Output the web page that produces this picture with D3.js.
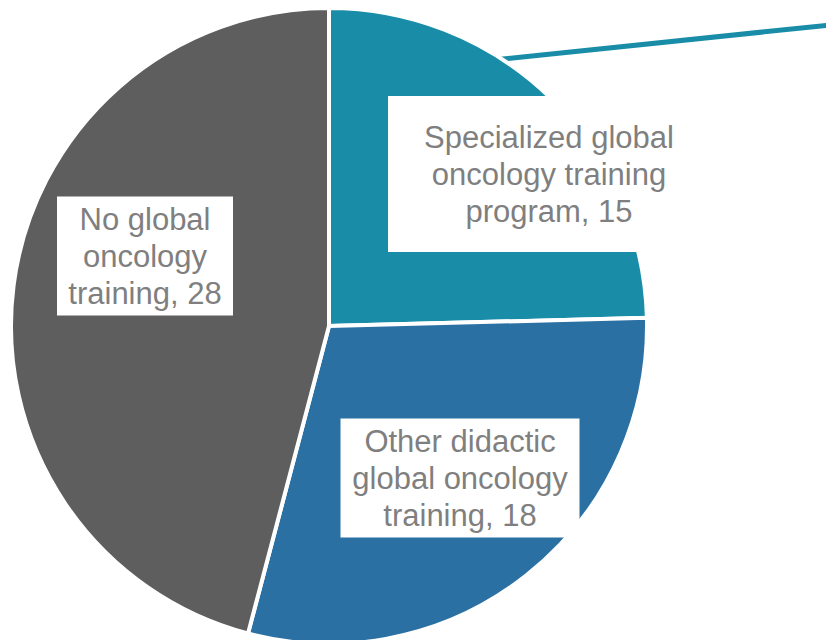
<!DOCTYPE html>
<html>
<head>
<meta charset="utf-8">
<script src="https://cdn.jsdelivr.net/npm/d3@7"></script>
<style>
  html, body { margin: 0; padding: 0; background: #fff; }
  svg { display: block; }
</style>
</head>
<body>
<svg id="chart" width="826" height="640"></svg>
<script>
// Global oncology training categories and counts
const categories = [
  "Specialized global oncology training program",
  "Other didactic global oncology training",
  "No global oncology training"
];
const values = [15, 18, 28];
const labelLines = [
  ["Specialized global", "oncology training", "program, 15"],
  ["Other didactic", "global oncology", "training, 18"],
  ["No global", "oncology", "training, 28"]
];
const colors = ["#198ca8", "#2b70a3", "#5e5e5e"];

// Layout
const W = 826, H = 640;
const cx = 329, cy = 326, R = 318;
// label box centre (relative to pie centre) and box size
const labelLayout = [
  { dx: 220, dy: -152, w: 322, h: 156 },
  { dx: 131, dy: 152, w: 239, h: 119 },
  { dx: -184, dy: -70, w: 176, h: 119 }
];
const fontSize = 31, lineH = 37;

const svg = d3.select("#chart");
const g = svg.append("g").attr("transform", `translate(${cx},${cy})`);

const data = categories.map((c, i) => ({ name: c, value: values[i], idx: i }));
const pie = d3.pie().sort(null).value(d => d.value);
const arcs = pie(data);
const arc = d3.arc().innerRadius(0).outerRadius(R);

// Leader line leaving the first slice's rim and running off the right edge
const a0 = arcs[0];
const leadAngle = a0.startAngle + (a0.endAngle - a0.startAngle) * 0.367;
const rim = [Math.sin(leadAngle) * (R - 2), -Math.cos(leadAngle) * (R - 2)];
const slope = -0.104;
const xStart = rim[0] - 25, xEnd = W - cx + 40;
g.append("line")
  .attr("x1", xStart).attr("y1", rim[1] + slope * (xStart - rim[0]))
  .attr("x2", xEnd).attr("y2", rim[1] + slope * (xEnd - rim[0]))
  .attr("stroke", colors[0]).attr("stroke-width", 5);

g.selectAll("path.slice")
  .data(arcs)
  .join("path")
  .attr("class", "slice")
  .attr("d", arc)
  .attr("fill", d => colors[d.data.idx])
  .attr("stroke", "#fff")
  .attr("stroke-width", 4)
  .attr("stroke-linejoin", "miter");

// Labels with white boxes
const lab = g.selectAll("g.label")
  .data(arcs)
  .join("g")
  .attr("class", "label")
  .attr("transform", d => {
    const L = labelLayout[d.data.idx];
    return `translate(${L.dx},${L.dy})`;
  });

lab.append("rect")
  .attr("x", d => -labelLayout[d.data.idx].w / 2)
  .attr("y", d => -labelLayout[d.data.idx].h / 2)
  .attr("width", d => labelLayout[d.data.idx].w)
  .attr("height", d => labelLayout[d.data.idx].h)
  .attr("fill", "#fff");

lab.each(function(d) {
  const lines = labelLines[d.data.idx];
  const t = d3.select(this).append("text")
    .attr("text-anchor", "middle")
    .attr("font-family", "'Liberation Sans', Arial, sans-serif")
    .attr("font-size", fontSize)
    .attr("fill", "#7f7f7f");
  const n = lines.length;
  lines.forEach((s, i) => {
    t.append("tspan")
      .attr("x", 0)
      .attr("y", (i - (n - 1) / 2) * lineH + fontSize * 0.36)
      .text(s);
  });
});
</script>
</body>
</html>
